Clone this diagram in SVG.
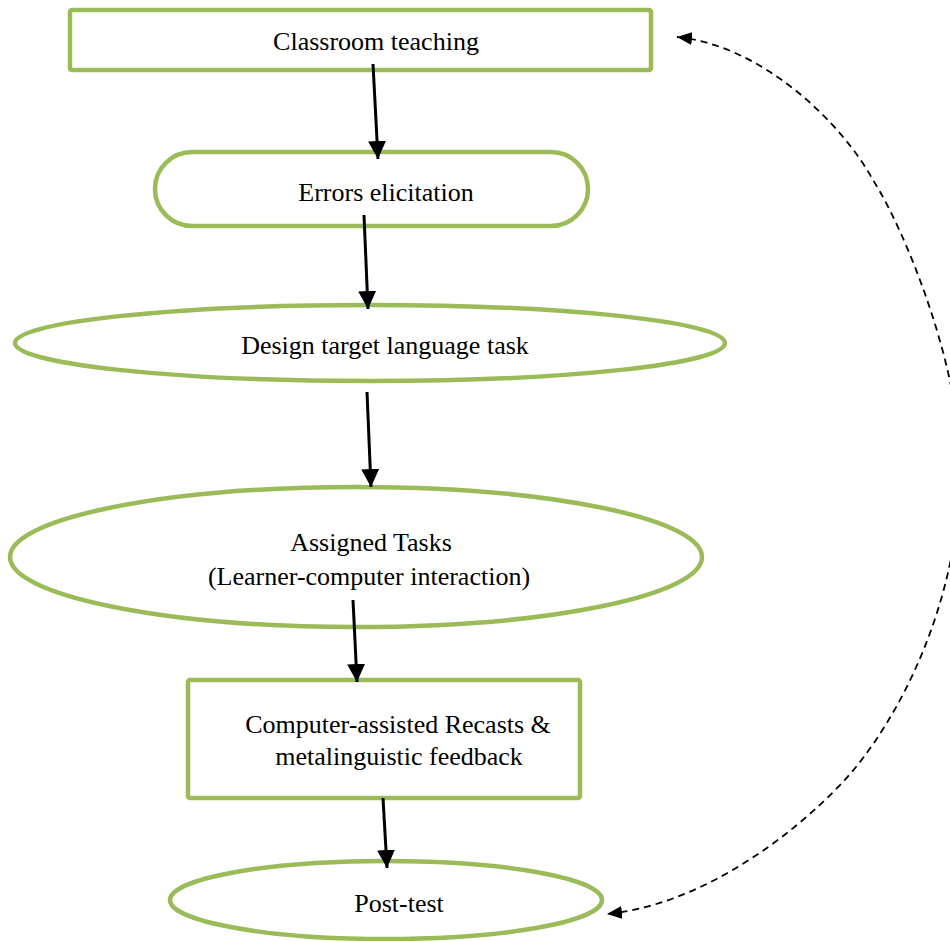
<svg xmlns="http://www.w3.org/2000/svg" width="950" height="941" viewBox="0 0 950 941">
<defs>
<style>
.node{fill:#fff;stroke:#9BBB59;stroke-width:4.5}
.lbl{font-family:"Liberation Serif","Times New Roman",serif;font-size:26px;fill:#000;text-anchor:middle}
.flow{stroke:#000;stroke-width:3;fill:none}
.back{stroke:#000;stroke-width:1.8;fill:none;stroke-dasharray:7,5}
</style>
<marker id="ah" markerUnits="userSpaceOnUse" markerWidth="18" markerHeight="18" viewBox="0 0 16 16" refX="16" refY="8" orient="auto">
<path d="M0,0 L16,8 L0,16 z" fill="#000"/>
</marker>
<marker id="ahs" markerUnits="userSpaceOnUse" markerWidth="15" markerHeight="13" viewBox="0 0 15 13" refX="15" refY="6.5" orient="auto-start-reverse">
<path d="M0,0 L15,6.5 L0,13 z" fill="#000"/>
</marker>
</defs>
<rect width="950" height="941" fill="#fff"/>
<g id="n1">
<rect class="node" x="70" y="10" width="581" height="60" rx="2"/>
<text class="lbl" x="376" y="50">Classroom teaching</text>
</g>
<g id="n2">
<rect class="node" x="155" y="152" width="433" height="74" rx="37" ry="37"/>
<text class="lbl" x="386" y="201">Errors elicitation</text>
</g>
<g id="n3">
<ellipse class="node" cx="370" cy="343" rx="355" ry="38"/>
<text class="lbl" x="385" y="354">Design target language task</text>
</g>
<g id="n4">
<ellipse class="node" cx="356" cy="557" rx="346" ry="70"/>
<text class="lbl" x="371" y="551">Assigned Tasks</text>
<text class="lbl" x="369" y="585">(Learner-computer interaction)</text>
</g>
<g id="n5">
<rect class="node" x="188" y="680" width="392" height="118" rx="2"/>
<text class="lbl" x="398" y="733">Computer-assisted Recasts &amp;</text>
<text class="lbl" x="399" y="765">metalinguistic feedback</text>
</g>
<g id="n6">
<ellipse class="node" cx="386" cy="900" rx="216" ry="39"/>
<text class="lbl" x="399" y="912">Post-test</text>
</g>
<g id="connectors">
<line class="flow" x1="373" y1="64" x2="378" y2="159" marker-end="url(#ah)"/>
<line class="flow" x1="364" y1="215" x2="368" y2="309" marker-end="url(#ah)"/>
<line class="flow" x1="367" y1="392" x2="371" y2="487" marker-end="url(#ah)"/>
<line class="flow" x1="353" y1="600" x2="357" y2="682" marker-end="url(#ah)"/>
<line class="flow" x1="383" y1="798" x2="387" y2="868" marker-end="url(#ah)"/>
<path class="back" d="M677 37 C760 45 840 120 873 180 C905 230 962 370 960 470 C960 600 900 720 843 782 C790 838 700 905 607 914" marker-start="url(#ahs)" marker-end="url(#ahs)"/>
</g>
</svg>
